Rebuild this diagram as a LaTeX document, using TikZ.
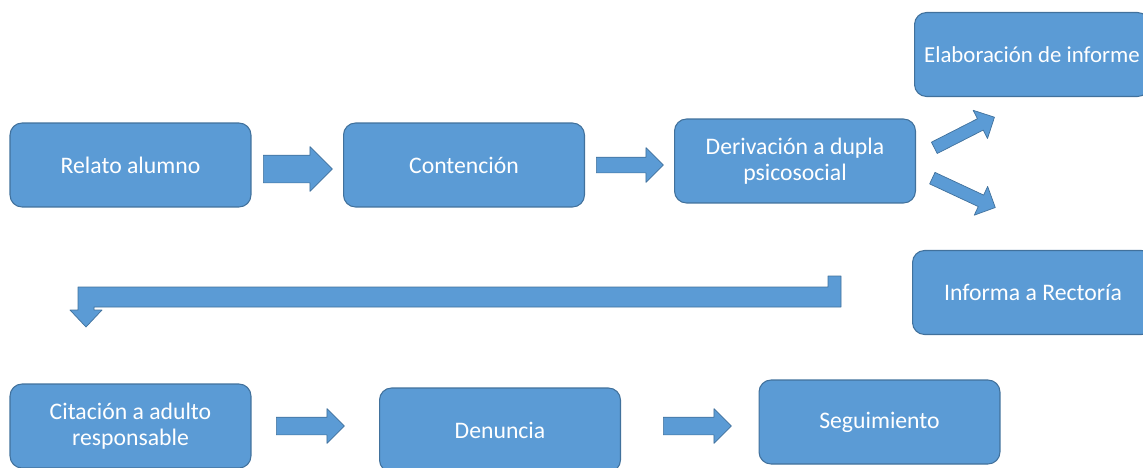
\documentclass[tikz,border=0pt]{standalone}
\usepackage{fontspec}
\setmainfont{Carlito}
\usetikzlibrary{shapes.arrows}
\definecolor{azul}{HTML}{5B9BD5}
\definecolor{borde}{HTML}{41719C}
\begin{document}
\begin{tikzpicture}[x=0.02cm, y=-0.02cm, font=\fontsize{13.5}{14.5}\selectfont, line join=round,
  caja/.style={draw=borde, line width=0.6pt, fill=azul, text=white, rounded corners=0.24cm,
    minimum width=4.82cm, minimum height=1.68cm, align=center, inner sep=0pt},
  flecha/.style={single arrow, draw=borde, line width=0.4pt, fill=azul, inner xsep=0pt, inner ysep=0.17cm,
    single arrow head extend=0.17cm, minimum width=0pt, minimum height=1.36cm, anchor=tail}]
\def \ancho{1143};
\def \alto{467};
\useasboundingbox (0,0) rectangle (\ancho,\alto);
\clip (0,0) rectangle (\ancho,\alto);
% fila de arriba
\node[caja] (relato) at (130.5,165) {Relato alumno};
\node[caja] (contencion) at (464,165) {Contención};
\node[caja] (derivacion) at (795,161) {Derivación a dupla\\psicosocial};
\node[caja, minimum width=4.7cm, font=\fontsize{13}{14.5}\selectfont] (elaboracion) at (1032,54.5) {Elaboración de informe};
\node[caja] (informa) at (1033,292.5) {Informa a Rectoría};
% fila de abajo
\node[caja] (citacion) at (130.5,426) {Citación a adulto\\responsable};
\node[caja] (denuncia) at (500,430) {Denuncia};
\node[caja] (seguimiento) at (879.5,422) {Seguimiento};
% flechas
\node[flecha, inner ysep=0.27cm, single arrow head extend=0.17cm, minimum height=1.38cm] (f1) at (263,169) {};
\node[flecha, inner ysep=0.15cm, single arrow head extend=0.19cm, minimum height=1.34cm] (f2) at (596,165) {};
\node[flecha, inner ysep=0.12cm, single arrow head extend=0.19cm, minimum height=1.35cm, rotate=27] (f3) at (934,148) {};
\node[flecha, inner ysep=0.12cm, single arrow head extend=0.19cm, minimum height=1.39cm, rotate=-25] (f4) at (932,178) {};
\node[flecha] (f5) at (276,426) {};
\node[flecha] (f6) at (663,426) {};
% flecha de vuelta
\draw[fill=azul, draw=borde, line width=0.4pt] (841,276) -- (841,307) -- (94,307) -- (94,310) -- (102,310) -- (86,327) -- (70,310) -- (78,310) -- (78,287) -- (828,287) -- (828,276) -- cycle;
\end{tikzpicture}
\end{document}
